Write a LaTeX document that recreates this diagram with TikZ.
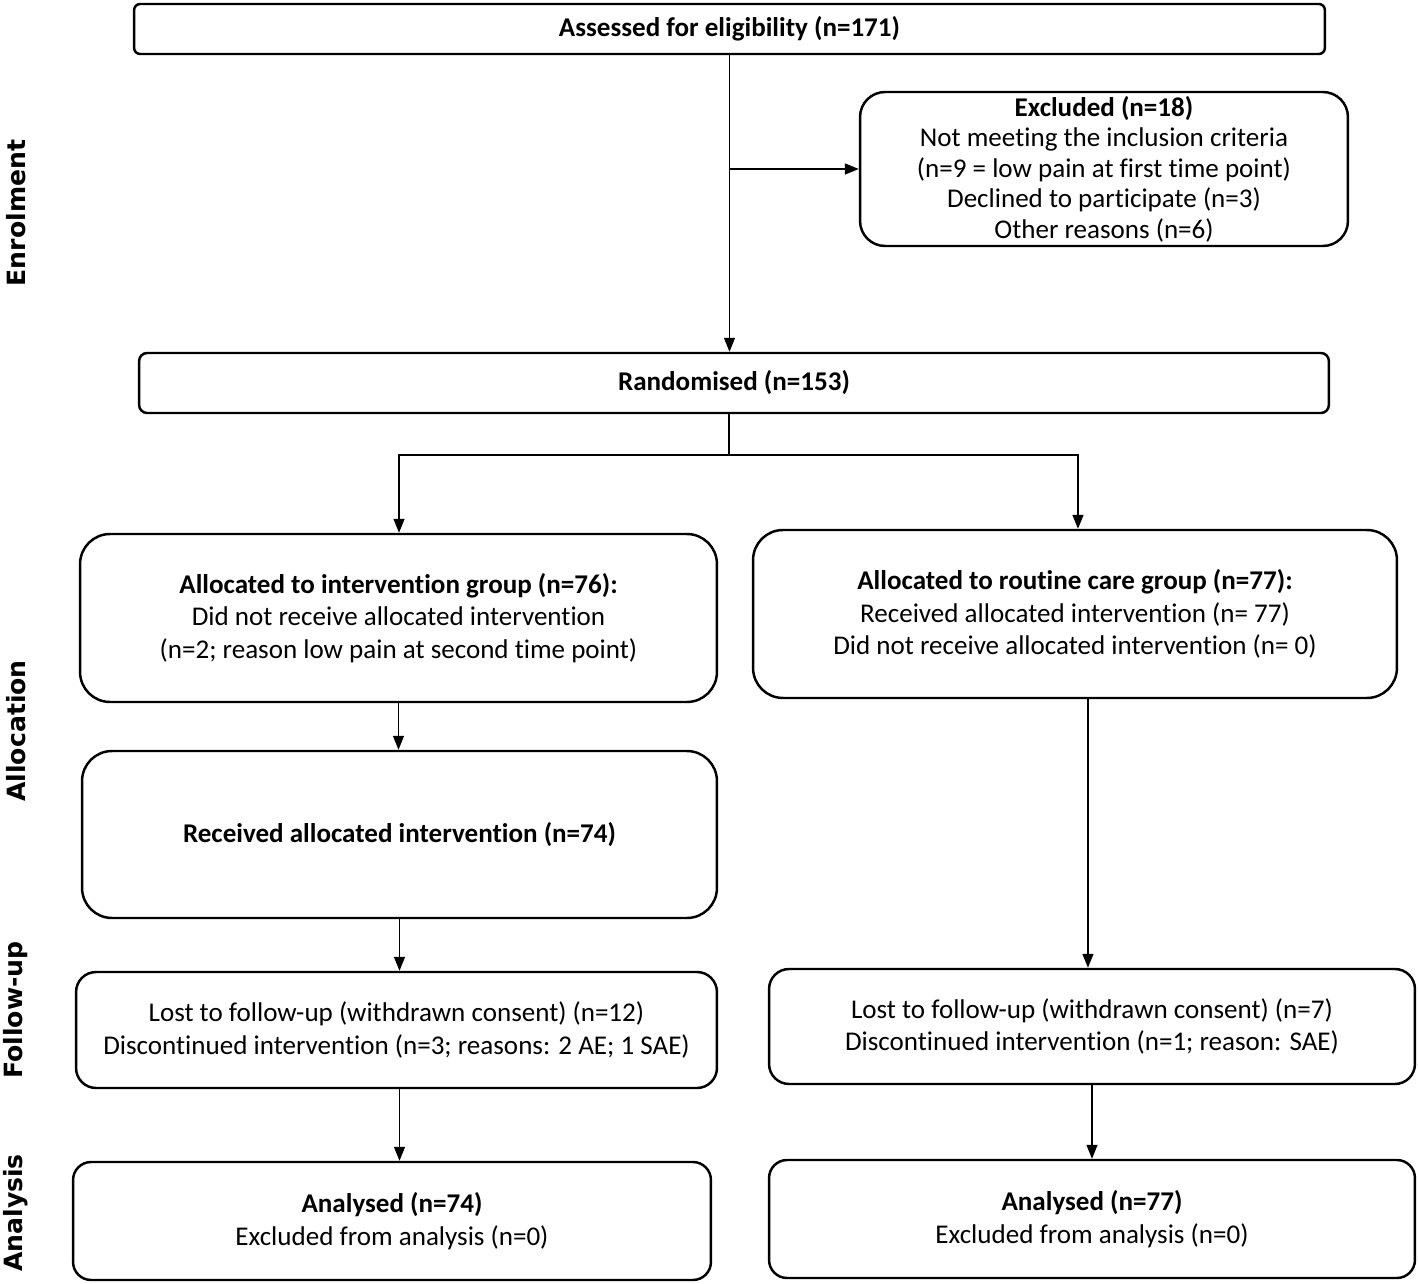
\documentclass[tikz,border=0pt]{standalone}
\usepackage{fontspec}
\setmainfont[Ligatures={NoCommon,NoContextual}, Contextuals=NoAlternate]{Carlito}
\newfontfamily\sidefont{DejaVu Sans}
\usetikzlibrary{arrows.meta}
\tikzset{box/.style = {draw, line width = 1.4pt, align = center, inner sep = 0,
                       font = \fontsize{15.4}{18.4}\selectfont}}
\tikzset{arr/.style = {line width = 0.8pt, -{Triangle[length=0.28cm, width=0.22cm]}}}
\tikzset{phase/.style = {rotate = 90, font = \sidefont\bfseries\fontsize{14.3}{16}\selectfont}}

\begin{document}
\begin{tikzpicture}[x=0.02cm, y=-0.02cm]
      \useasboundingbox (0,0) rectangle (1418,1284);
      % boxes
      \node [box, rounded corners=0.12cm, minimum width=23.82cm, minimum height=1cm] (assess) at (729.5,29)
            {\textbf{Assessed for eligibility (n=171)}};
      \node [box, rounded corners=0.5cm, minimum width=9.76cm, minimum height=3.08cm,
             font=\fontsize{15.4}{17.4}\selectfont] (excl) at (1104,169)
            {\textbf{Excluded (n=18)}\\Not meeting the inclusion criteria\\(n=9 = low pain at first time point)\\Declined to participate (n=3)\\Other reasons (n=6)};
      \node [box, rounded corners=0.16cm, minimum width=23.8cm, minimum height=1.2cm] (rand) at (734,383)
            {\textbf{Randomised (n=153)}};
      \node [box, rounded corners=0.6cm, minimum width=12.74cm, minimum height=3.36cm] (allocA) at (398.5,618)
            {\textbf{Allocated to intervention group (n=76):}\\Did not receive allocated intervention\\(n=2; reason low pain at second time point)};
      \node [box, rounded corners=0.6cm, minimum width=12.88cm, minimum height=3.36cm] (allocB) at (1075,614)
            {\textbf{Allocated to routine care group (n=77):}\\Received allocated intervention (n= 77)\\Did not receive allocated intervention (n= 0)};
      \node [box, rounded corners=0.6cm, minimum width=12.7cm, minimum height=3.34cm] (recv) at (399.5,834.5)
            {\textbf{Received allocated intervention (n=74)}};
      \node [box, rounded corners=0.4cm, minimum width=12.82cm, minimum height=2.32cm] (fupA) at (396.5,1030)
            {Lost to follow-up (withdrawn consent) (n=12)\\Discontinued intervention (n=3; reasons: 2 AE; 1 SAE)};
      \node [box, rounded corners=0.4cm, minimum width=12.92cm, minimum height=2.3cm] (fupB) at (1092,1026.5)
            {Lost to follow-up (withdrawn consent) (n=7)\\Discontinued intervention (n=1; reason: SAE)};
      \node [box, rounded corners=0.36cm, minimum width=12.76cm, minimum height=2.36cm] (anaA) at (392,1221)
            {\textbf{Analysed (n=74)}\\Excluded from analysis (n=0)};
      \node [box, rounded corners=0.36cm, minimum width=12.92cm, minimum height=2.36cm] (anaB) at (1092,1219)
            {\textbf{Analysed (n=77)}\\Excluded from analysis (n=0)};
      % phase labels
      \node [phase] (lblEnrol) at (16,213) {Enrolment};
      \node [phase] (lblAlloc) at (16,731) {Allocation};
      \node [phase] (lblFollow) at (16,1010) {Follow-up};
      \node [phase] (lblAnalysis) at (16,1213) {Analysis};
      % connectors
      \coordinate (split) at (729,455);
      \draw [arr] (assess.south) -- (assess.south |- rand.north);
      \draw [arr] (assess.south |- excl.west) -- (excl.west);
      \draw [line width = 0.8pt] (split |- rand.south) -- (split);
      \draw [arr] (split) -| ([xshift=0.3pt]allocA.north);
      \draw [arr] (split) -| ([xshift=1.7pt]allocB.north);
      \draw [arr] (allocA.south) -- (allocA.south |- recv.north);
      \draw [arr] (recv.south) -- (recv.south |- fupA.north);
      \draw [arr] (recv.south |- fupA.south) -- (recv.south |- anaA.north);
      \draw [arr] ([xshift=-2.3pt]fupB.north |- allocB.south) -- ([xshift=-2.3pt]fupB.north);
      \draw [arr] (fupB.south) -- (fupB.south |- anaB.north);
    \end{tikzpicture}
\end{document}
